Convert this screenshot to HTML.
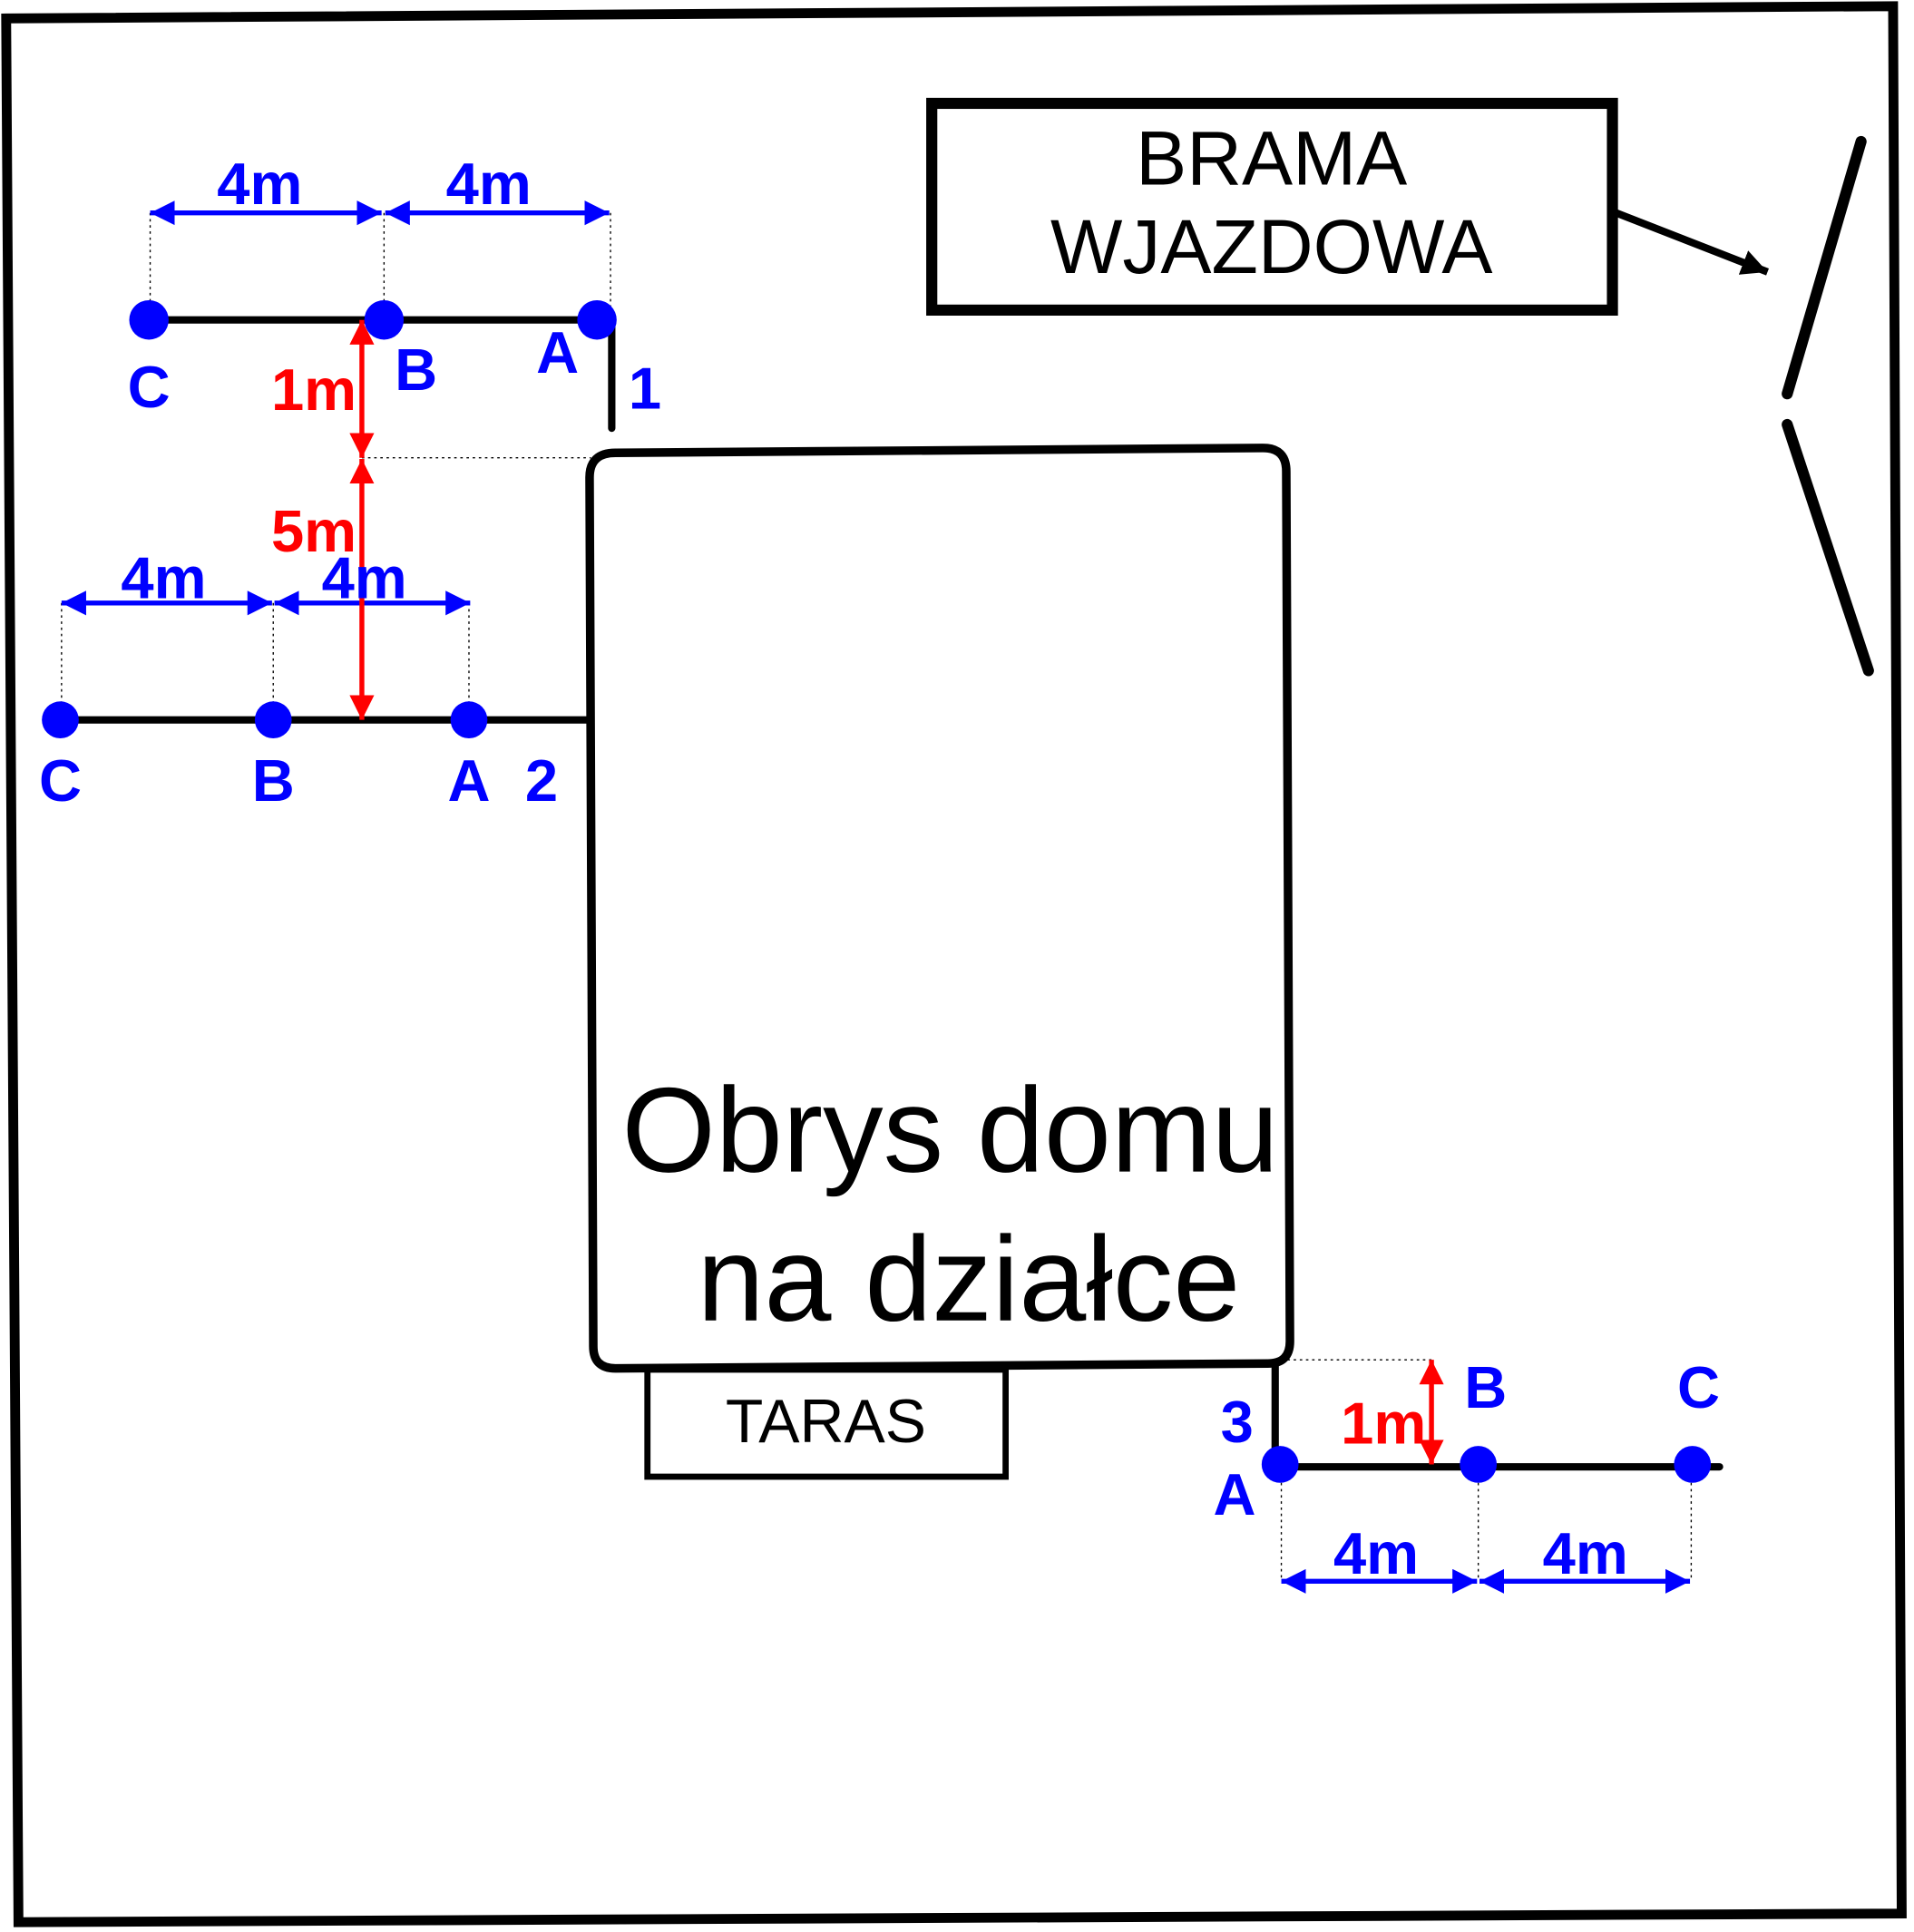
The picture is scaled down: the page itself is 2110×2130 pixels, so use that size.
<!DOCTYPE html>
<html><head><meta charset="utf-8"><style>
html,body{margin:0;padding:0;background:#fff;}
svg{display:block;}
text{font-family:"Liberation Sans",sans-serif;}
.b{fill:#0000ff;font-weight:bold;font-size:48px;text-anchor:middle;}
.r{fill:#ff0000;font-weight:bold;font-size:48px;text-anchor:middle;}
</style></head><body>
<svg width="2110" height="2130" viewBox="0 0 1555 1570" preserveAspectRatio="none" xmlns="http://www.w3.org/2000/svg">
<defs>
<marker id="ab" viewBox="0 0 10 10" refX="10" refY="5" markerWidth="5" markerHeight="5" orient="auto-start-reverse" markerUnits="strokeWidth"><path d="M0,0 L10,5 L0,10 Z" fill="#0000ff"/></marker>
<marker id="ar" viewBox="0 0 10 10" refX="10" refY="5" markerWidth="5" markerHeight="5" orient="auto-start-reverse" markerUnits="strokeWidth"><path d="M0,0 L10,5 L0,10 Z" fill="#ff0000"/></marker>
<marker id="ak" viewBox="0 0 10 10" refX="10" refY="5" markerWidth="3.5" markerHeight="3.5" orient="auto" markerUnits="strokeWidth"><path d="M0,0 L10,5 L0,10 Z" fill="#000"/></marker>
</defs>
<polygon points="5,15 1538,5 1545,1555 15,1562" fill="none" stroke="#000" stroke-width="8"/>
<rect x="757" y="84" width="553" height="168" fill="none" stroke="#000" stroke-width="9"/>
<text x="1033" y="150" font-size="62" text-anchor="middle">BRAMA</text>
<text x="1033" y="222" font-size="62" text-anchor="middle">WJAZDOWA</text>
<line x1="1313" y1="173" x2="1436" y2="221" stroke="#000" stroke-width="6" marker-end="url(#ak)"/>
<line x1="1512" y1="115" x2="1452" y2="320" stroke="#000" stroke-width="9" stroke-linecap="round"/>
<line x1="1452" y1="345" x2="1518" y2="545" stroke="#000" stroke-width="9" stroke-linecap="round"/>
<path d="M500,368 L1026,364 Q1045,364 1045,383 L1048,1090 Q1048,1108 1030,1108 L500,1112 Q482,1112 482,1094 L479,388 Q479,368 500,368 Z" fill="none" stroke="#000" stroke-width="7"/>
<text x="772" y="952" font-size="98" text-anchor="middle">Obrys domu</text>
<text x="787" y="1073" font-size="98" text-anchor="middle">na działce</text>
<rect x="526" y="1113" width="291" height="87" fill="none" stroke="#000" stroke-width="5"/>
<text x="671" y="1172" font-size="50" text-anchor="middle">TARAS</text>
<g stroke="#000" stroke-width="1" stroke-dasharray="2,3" fill="none">
<line x1="122" y1="173" x2="122" y2="260"/><line x1="312" y1="173" x2="312" y2="260"/><line x1="496" y1="173" x2="496" y2="260"/>
<line x1="294" y1="372" x2="480" y2="372"/>
<line x1="50" y1="490" x2="50" y2="585"/><line x1="222" y1="490" x2="222" y2="585"/><line x1="381" y1="490" x2="381" y2="585"/>
<line x1="1046" y1="1105" x2="1163" y2="1105"/>
<line x1="1041" y1="1190" x2="1041" y2="1285"/><line x1="1201" y1="1190" x2="1201" y2="1285"/><line x1="1374" y1="1190" x2="1374" y2="1285"/>
</g>
<line x1="121" y1="260" x2="497" y2="260" stroke="#000" stroke-width="6"/>
<line x1="497" y1="260" x2="497" y2="348" stroke="#000" stroke-width="6" stroke-linecap="round"/>
<line x1="49" y1="585" x2="480" y2="585" stroke="#000" stroke-width="6"/>
<line x1="1036" y1="1108" x2="1036" y2="1192" stroke="#000" stroke-width="6"/>
<line x1="1036" y1="1192" x2="1397" y2="1192" stroke="#000" stroke-width="6" stroke-linecap="round"/>
<g stroke="#0000ff" stroke-width="4">
<line x1="122" y1="173" x2="310" y2="173" marker-start="url(#ab)" marker-end="url(#ab)"/>
<line x1="313" y1="173" x2="495" y2="173" marker-start="url(#ab)" marker-end="url(#ab)"/>
<line x1="50" y1="490" x2="221" y2="490" marker-start="url(#ab)" marker-end="url(#ab)"/>
<line x1="223" y1="490" x2="382" y2="490" marker-start="url(#ab)" marker-end="url(#ab)"/>
<line x1="1041" y1="1285" x2="1200" y2="1285" marker-start="url(#ab)" marker-end="url(#ab)"/>
<line x1="1202" y1="1285" x2="1373" y2="1285" marker-start="url(#ab)" marker-end="url(#ab)"/>
</g>
<g stroke="#ff0000" stroke-width="4">
<line x1="294" y1="260" x2="294" y2="372" marker-start="url(#ar)" marker-end="url(#ar)"/>
<line x1="294" y1="373" x2="294" y2="585" marker-start="url(#ar)" marker-end="url(#ar)"/>
<line x1="1163" y1="1105" x2="1163" y2="1190" marker-start="url(#ar)" marker-end="url(#ar)"/>
</g>
<g fill="#0000ff">
<circle cx="121" cy="260" r="16"/><circle cx="312" cy="260" r="16"/><circle cx="485" cy="260" r="16"/>
<circle cx="49" cy="585" r="15"/><circle cx="222" cy="585" r="15"/><circle cx="381" cy="585" r="15"/>
<circle cx="1040" cy="1190" r="15"/><circle cx="1201" cy="1190" r="15"/><circle cx="1375" cy="1190" r="15"/>
</g>
<text class="b" x="211" y="166">4m</text><text class="b" x="397" y="166">4m</text>
<text class="b" x="121" y="331">C</text><text class="b" x="338" y="317">B</text><text class="b" x="453" y="303">A</text><text class="b" x="524" y="332">1</text>
<text class="b" x="133" y="486">4m</text><text class="b" x="296" y="486">4m</text>
<text class="b" x="49" y="651">C</text><text class="b" x="222" y="651">B</text><text class="b" x="381" y="651">A</text><text class="b" x="440" y="651">2</text>
<text class="b" x="1005" y="1172">3</text><text class="b" x="1003" y="1231">A</text><text class="b" x="1207" y="1144">B</text><text class="b" x="1380" y="1144">C</text>
<text class="b" x="1118" y="1279">4m</text><text class="b" x="1288" y="1279">4m</text>
<text class="r" x="255" y="333">1m</text><text class="r" x="255" y="448">5m</text><text class="r" x="1124" y="1173">1m</text>
</svg>
</body></html>
